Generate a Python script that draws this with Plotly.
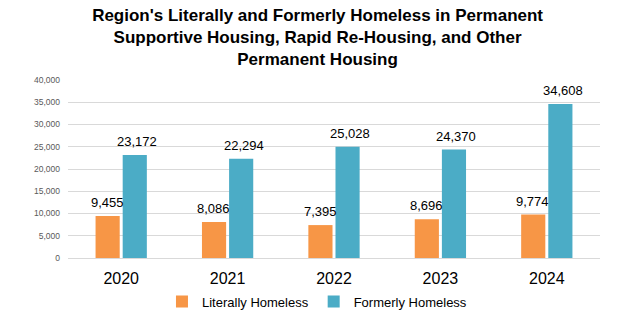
import plotly.graph_objects as go

years = ["2020", "2021", "2022", "2023", "2024"]
literally_homeless = [9455, 8086, 7395, 8696, 9774]
formerly_homeless = [23172, 22294, 25028, 24370, 34608]

orange = "#F79646"
blue = "#4BACC6"
label_font = dict(family="Liberation Sans, Arial, sans-serif", size=13, color="#000000")

pos = list(range(len(years)))

fig = go.Figure()
fig.add_trace(go.Bar(name="Literally Homeless", x=pos, y=literally_homeless,
                     marker=dict(color=orange, line=dict(width=0))))
fig.add_trace(go.Bar(name="Formerly Homeless", x=pos, y=formerly_homeless,
                     marker=dict(color=blue, line=dict(width=0))))

# value labels sitting just above each bar
annotations = []
for p, v in zip(pos, literally_homeless):
    annotations.append(dict(x=p, y=v, xref="x", yref="y", text=f"{v:,}", showarrow=False,
                            xshift=-14, yshift=4, yanchor="bottom", font=label_font))
for p, v in zip(pos, formerly_homeless):
    annotations.append(dict(x=p, y=v, xref="x", yref="y", text=f"{v:,}", showarrow=False,
                            xshift=16, yshift=4, yanchor="bottom", font=label_font))

fig.update_layout(
    width=639, height=326,
    margin=dict(l=68, r=39, t=80, b=68, autoexpand=False),
    paper_bgcolor="white", plot_bgcolor="white",
    barmode="group", bargap=0.49, bargroupgap=0.11,
    title=dict(
        text="Region's Literally and Formerly Homeless in Permanent<br>"
             "Supportive Housing, Rapid Re-Housing, and Other<br>Permanent Housing",
        x=0.497, xanchor="center", y=0.935, yanchor="middle",
        font=dict(family="Liberation Sans, sans-serif",
                  size=17, color="#000000", weight="bold"),
    ),
    xaxis=dict(range=[-0.5, len(years) - 0.5], tickvals=pos, ticktext=years,
               showline=False, ticks="", showgrid=False, zeroline=False,
               ticklabelstandoff=9,
               tickfont=dict(family="Liberation Sans, Arial, sans-serif", size=16, color="#000000")),
    yaxis=dict(range=[0, 40000], dtick=5000, tickformat=",d",
               showgrid=True, gridcolor="#D9D9D9", gridwidth=1,
               zeroline=True, zerolinecolor="#D9D9D9", zerolinewidth=1,
               showline=False, ticks="", ticklabelstandoff=7,
               tickfont=dict(family="Liberation Sans, Arial, sans-serif", size=8.5, color="#595959")),
    legend=dict(orientation="h", x=0.468, xanchor="center",
                yref="container", y=0.075, yanchor="middle",
                font=dict(family="Liberation Sans, Arial, sans-serif", size=13, color="#000000"),
                traceorder="normal"),
    annotations=annotations,
)

fig.write_html("out.html")
